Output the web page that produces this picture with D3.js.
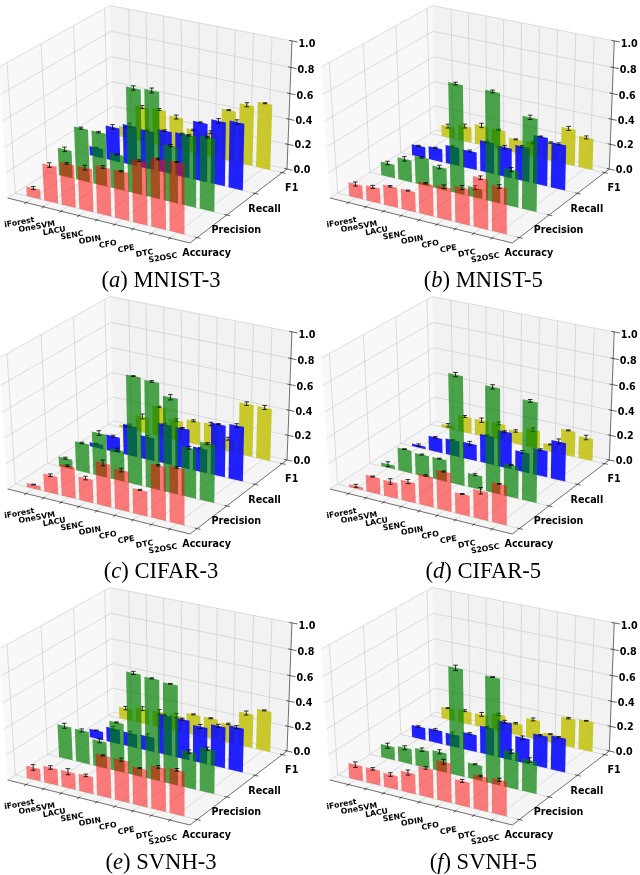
<!DOCTYPE html>
<html><head><meta charset="utf-8">
<script src="https://cdn.jsdelivr.net/npm/d3@7"></script>
<style>html,body{margin:0;padding:0;background:#fff}svg{display:block}</style>
</head><body><svg id="c" width="640" height="875"></svg>
<script>
const methods=["iForest","OneSVM","LACU","SENC","ODIN","CFO","CPE","DTC","S2OSC"];
const metrics=["Accuracy","Precision","Recall","F1"];
const zTicks=[0,0.2,0.4,0.6,0.8,1.0];

const mnist3Accuracy=[.076,.29,.335,.335,.373,.373,.486,.53,.54];
const mnist3Precision=[.22,.418,.418,.275,.814,.825,.44,.55,.567];
const mnist3Recall=[.074,.273,.315,.305,.336,.341,.462,.504,.525];
const mnist3F1=[.083,.281,.291,.26,.187,.198,.406,.478,.52];
const mnist3AccuracyErr=[.012,.018,.006,.018,.010,.004,.006,.006,.004];
const mnist3PrecisionErr=[.018,.008,.006,.004,.016,.018,.008,.006,.006];
const mnist3RecallErr=[.004,.018,.018,.006,.006,.006,.004,.018,.018];
const mnist3F1Err=[.006,.012,.008,.016,.006,.012,.004,.016,.004];

const mnist5Accuracy=[.108,.119,.157,.157,.248,.254,.281,.389,.356];
const mnist5Precision=[.11,.176,.22,.176,.847,.077,.847,.286,.715];
const mnist5Recall=[.089,.105,.147,.142,.247,.236,.273,.383,.357];
const mnist5F1=[.094,.125,.161,.156,.109,.114,.146,.291,.25];
const mnist5AccuracyErr=[.016,.012,.006,.004,.005,.014,.016,.014,.014];
const mnist5PrecisionErr=[.014,.018,.006,.014,.010,.016,.010,.016,.016];
const mnist5RecallErr=[.004,.004,.006,.008,.006,.014,.008,.004,.008];
const mnist5F1Err=[.016,.016,.018,.006,.004,.010,.006,.016,.012];

const cifar3Accuracy=[.032,.14,.248,.184,.335,.313,.194,.416,.432];
const cifar3Precision=[.077,.231,.341,.242,.836,.825,.737,.385,.451];
const cifar3Recall=[.032,.126,.242,.184,.315,.315,.189,.41,.43];
const cifar3F1=[.021,.13,.239,.161,.187,.192,.104,.416,.416];
const cifar3AccuracyErr=[.003,.010,.006,.014,.022,.014,.004,.006,.006];
const cifar3PrecisionErr=[.008,.006,.018,.012,.003,.006,.020,.010,.006];
const cifar3RecallErr=[.004,.008,.012,.012,.008,.006,.006,.004,.014];
const cifar3F1Err=[.006,.020,.006,.012,.008,.014,.012,.014,.016];

const cifar5Accuracy=[.022,.13,.124,.157,.238,.302,.162,.221,.308];
const cifar5Precision=[.028,.182,.171,.171,.847,.11,.814,.253,.77];
const cifar5Recall=[.021,.116,.126,.131,.226,.289,.158,.21,.305];
const cifar5F1=[.026,.13,.13,.135,.104,.146,.057,.203,.177];
const cifar5AccuracyErr=[.012,.004,.022,.016,.005,.004,.004,.025,.003];
const cifar5PrecisionErr=[.020,.003,.004,.004,.016,.008,.016,.004,.010];
const cifar5RecallErr=[.010,.006,.004,.016,.004,.006,.012,.006,.020];
const cifar5F1Err=[.014,.008,.018,.012,.010,.014,.004,.004,.018];

const svhn3Accuracy=[.097,.13,.13,.135,.324,.324,.292,.335,.346];
const svhn3Precision=[.264,.259,.209,.385,.792,.781,.77,.286,.341];
const svhn3Recall=[.068,.116,.11,.116,.315,.315,.289,.326,.347];
const svhn3F1=[.094,.12,.125,.125,.166,.166,.151,.27,.322];
const svhn3AccuracyErr=[.022,.014,.024,.010,.004,.012,.004,.010,.010];
const svhn3PrecisionErr=[.020,.012,.016,.004,.012,.004,.003,.014,.012];
const svhn3RecallErr=[.003,.016,.014,.018,.006,.008,.016,.012,.012];
const svhn3F1Err=[.014,.016,.018,.018,.004,.004,.006,.016,.004];

const svhn5Accuracy=[.119,.119,.108,.157,.227,.308,.194,.265,.27];
const svhn5Precision=[.105,.121,.138,.154,.83,.121,.82,.286,.253];
const svhn5Recall=[.10,.105,.10,.137,.22,.294,.20,.252,.268];
const svhn5F1=[.094,.104,.104,.135,.094,.156,.068,.229,.239];
const svhn5AccuracyErr=[.022,.010,.014,.020,.010,.018,.012,.006,.012];
const svhn5PrecisionErr=[.020,.016,.014,.016,.020,.004,.003,.014,.018];
const svhn5RecallErr=[.006,.008,.016,.008,.006,.012,.014,.006,.006];
const svhn5F1Err=[.004,.008,.016,.010,.006,.012,.004,.006,.003];

const panels=[
 {tag:"a",name:"MNIST-3",col:0,row:0,v:[mnist3Accuracy,mnist3Precision,mnist3Recall,mnist3F1],e:[mnist3AccuracyErr,mnist3PrecisionErr,mnist3RecallErr,mnist3F1Err]},
 {tag:"b",name:"MNIST-5",col:1,row:0,v:[mnist5Accuracy,mnist5Precision,mnist5Recall,mnist5F1],e:[mnist5AccuracyErr,mnist5PrecisionErr,mnist5RecallErr,mnist5F1Err]},
 {tag:"c",name:"CIFAR-3",col:0,row:1,v:[cifar3Accuracy,cifar3Precision,cifar3Recall,cifar3F1],e:[cifar3AccuracyErr,cifar3PrecisionErr,cifar3RecallErr,cifar3F1Err]},
 {tag:"d",name:"CIFAR-5",col:1,row:1,v:[cifar5Accuracy,cifar5Precision,cifar5Recall,cifar5F1],e:[cifar5AccuracyErr,cifar5PrecisionErr,cifar5RecallErr,cifar5F1Err]},
 {tag:"e",name:"SVNH-3",col:0,row:2,v:[svhn3Accuracy,svhn3Precision,svhn3Recall,svhn3F1],e:[svhn3AccuracyErr,svhn3PrecisionErr,svhn3RecallErr,svhn3F1Err]},
 {tag:"f",name:"SVNH-5",col:1,row:2,v:[svhn5Accuracy,svhn5Precision,svhn5Recall,svhn5F1],e:[svhn5AccuracyErr,svhn5PrecisionErr,svhn5RecallErr,svhn5F1Err]}
];
const seriesColors=["#ff0000","#008000","#0000ff","#bfbf00"];
const seriesOpacity=[0.5,0.7,0.85,0.8];

// data -> unit cube
const X=d3.scaleLinear().domain([-1.076,9.076]).range([0,1]);
const Y=d3.scaleLinear().domain([-0.233,3.18]).range([0,1]);
const Z=d3.scaleLinear().domain([0,1]).range([0,1]);

// perspective view, then an affine fit to three floor corners
const box=[1,1,0.95];
const el=30*Math.PI/180, az=-60*Math.PI/180, dist=10;
const nv=[Math.cos(el)*Math.cos(az),Math.cos(el)*Math.sin(az),Math.sin(el)];
const cross=(a,b)=>[a[1]*b[2]-a[2]*b[1],a[2]*b[0]-a[0]*b[2],a[0]*b[1]-a[1]*b[0]];
const dot=(a,b)=>a[0]*b[0]+a[1]*b[1]+a[2]*b[2];
let uv=cross([0,0,1],nv); const ul=Math.hypot(...uv); uv=uv.map(d=>d/ul);
const vv=cross(nv,uv);
function proj(xn,yn,zn){
  const d=[xn*box[0]-box[0]/2-dist*nv[0],yn*box[1]-box[1]/2-dist*nv[1],zn*box[2]-box[2]/2-dist*nv[2]];
  const w=-dot(nv,d);
  return [dot(uv,d)/w,dot(vv,d)/w];
}
const a0=proj(0,0,0),a1=proj(1,0,0),a2=proj(1,1,0);
const t0=[7.6,198],t1=[190,243],t2=[287,169];
const det=(a1[0]-a0[0])*(a2[1]-a0[1])-(a2[0]-a0[0])*(a1[1]-a0[1]);
const fit=k=>{
  const p=((t1[k]-t0[k])*(a2[1]-a0[1])-(t2[k]-t0[k])*(a1[1]-a0[1]))/det;
  const q=((t2[k]-t0[k])*(a1[0]-a0[0])-(t1[k]-t0[k])*(a2[0]-a0[0]))/det;
  return [p,q,t0[k]-p*a0[0]-q*a0[1]];
};
const fx=fit(0),fy=fit(1);
const P=(xn,yn,zn)=>{const p=proj(xn,yn,zn);return [fx[0]*p[0]+fx[1]*p[1]+fx[2],fy[0]*p[0]+fy[1]*p[1]+fy[2]];};
const dataP=(x,y,z)=>P(X(x),Y(y),Z(z));
const line=d3.line();

const svg=d3.select("#c");
svg.append("rect").attr("width",640).attr("height",875).attr("fill","#fff");
svg.append("defs").append("filter").attr("id","soft").attr("x","-5%").attr("y","-5%").attr("width","110%").attr("height","110%")
  .append("feGaussianBlur").attr("stdDeviation",0.3);

panels.forEach(pn=>{
  const ox=pn.col?322.3:0, oy=pn.row*291;
  const g=svg.append("g").attr("transform",`translate(${ox},${oy})`).attr("filter","url(#soft)");
  // panes
  const panes=[
    {c:[[0,0,0],[1,0,0],[1,1,0],[0,1,0]],f:"rgba(235,235,235,0.5)"},
    {c:[[0,0,0],[0,1,0],[0,1,1],[0,0,1]],f:"rgba(242,242,242,0.5)"},
    {c:[[0,1,0],[1,1,0],[1,1,1],[0,1,1]],f:"rgba(230,230,230,0.5)"}
  ];
  g.selectAll("path.pane").data(panes).join("path").attr("class","pane")
    .attr("fill",d=>d.f).attr("d",d=>line(d.c.map(c=>P(...c)))+"Z");
  // grid
  const gridLines=[];
  d3.range(methods.length).forEach(i=>{const x=X(i);
    gridLines.push([[x,0,0],[x,1,0]],[[x,1,0],[x,1,1]]);});
  d3.range(metrics.length).forEach(j=>{const y=Y(j);
    gridLines.push([[0,y,0],[1,y,0]],[[0,y,0],[0,y,1]]);});
  zTicks.forEach(t=>{const z=Z(t);
    gridLines.push([[0,0,z],[0,1,z]],[[0,1,z],[1,1,z]]);});
  g.selectAll("path.grid").data(gridLines).join("path").attr("class","grid")
    .attr("fill","none").attr("stroke","#c8c8c8").attr("stroke-width",0.6)
    .attr("d",d=>line(d.map(c=>P(...c))));
  // axis spines
  const spines=[[[0,0,0],[1,0,0]],[[1,0,0],[1,1,0]],[[1,1,0],[1,1,1]]];
  g.selectAll("path.spine").data(spines).join("path").attr("class","spine")
    .attr("fill","none").attr("stroke","#333").attr("stroke-width",0.7)
    .attr("d",d=>line(d.map(c=>P(...c))));
  // ticks
  const ticks=[];
  d3.range(methods.length).forEach(i=>ticks.push([[X(i),0.012,0],[X(i),-0.018,0]]));
  d3.range(metrics.length).forEach(j=>ticks.push([[0.988,Y(j),0],[1.018,Y(j),0]]));
  zTicks.forEach(t=>ticks.push([[0.985,1,Z(t)],[1.03,1,Z(t)]]));
  g.selectAll("path.tick").data(ticks).join("path").attr("class","tick")
    .attr("fill","none").attr("stroke","#222").attr("stroke-width",0.7)
    .attr("d",d=>line(d.map(c=>P(...c))));
  // bars, back row first
  [3,2,1,0].forEach(s=>{
    const vals=pn.v[s], errs=pn.e[s];
    const layer=g.append("g");
    layer.selectAll("path.bar").data(vals).join("path").attr("class","bar")
      .attr("fill",seriesColors[s]).attr("fill-opacity",seriesOpacity[s])
      .attr("d",(v,i)=>line([dataP(i-.4,s,0),dataP(i+.4,s,0),dataP(i+.4,s,v),dataP(i-.4,s,v)])+"Z");
    layer.selectAll("path.err").data(vals).join("path").attr("class","err")
      .attr("fill","none").attr("stroke","#000").attr("stroke-width",0.8)
      .attr("d",(v,i)=>{
        const a=dataP(i,s,v-errs[i]), b=dataP(i,s,v+errs[i]);
        return `M${a[0]-2.3},${a[1]}H${a[0]+2.3}M${b[0]-2.3},${b[1]}H${b[0]+2.3}M${a[0]},${a[1]}L${b[0]},${b[1]}`;
      });
  });
  // labels
  const bold="'DejaVu Sans'";
  g.selectAll("text.xl").data(methods).join("text").attr("class","xl")
    .attr("font-family",bold).attr("font-weight","bold").attr("font-size",7.8)
    .attr("text-anchor","middle")
    .attr("transform",(d,i)=>{const p=P(X(i),0,0);return `translate(${p[0]-6.5},${p[1]+22}) rotate(-10)`;})
    .text(d=>d);
  g.selectAll("text.yl").data(metrics).join("text").attr("class","yl")
    .attr("font-family",bold).attr("font-weight","bold").attr("font-size",9.6)
    .attr("text-anchor","middle")
    .attr("x",(d,j)=>P(1,Y(j),0)[0]+9.5).attr("y",(d,j)=>P(1,Y(j),0)[1]+18.5)
    .text(d=>d);
  g.selectAll("text.zl").data(zTicks).join("text").attr("class","zl")
    .attr("font-family",bold).attr("font-weight","bold").attr("font-size",9.6)
    .attr("x",t=>P(1,1,Z(t))[0]+6.5).attr("y",t=>P(1,1,Z(t))[1]+3.5+2.5*t)
    .text(t=>d3.format(".1f")(t));
  // caption
  const cap=g.append("text").attr("font-family","'Liberation Serif'").attr("font-size",22.6)
    .attr("text-anchor","middle").attr("x",161).attr("y",287);
  cap.append("tspan").text("(");
  cap.append("tspan").attr("font-style","italic").text(pn.tag);
  cap.append("tspan").text(") "+pn.name);
});
</script></body></html>
